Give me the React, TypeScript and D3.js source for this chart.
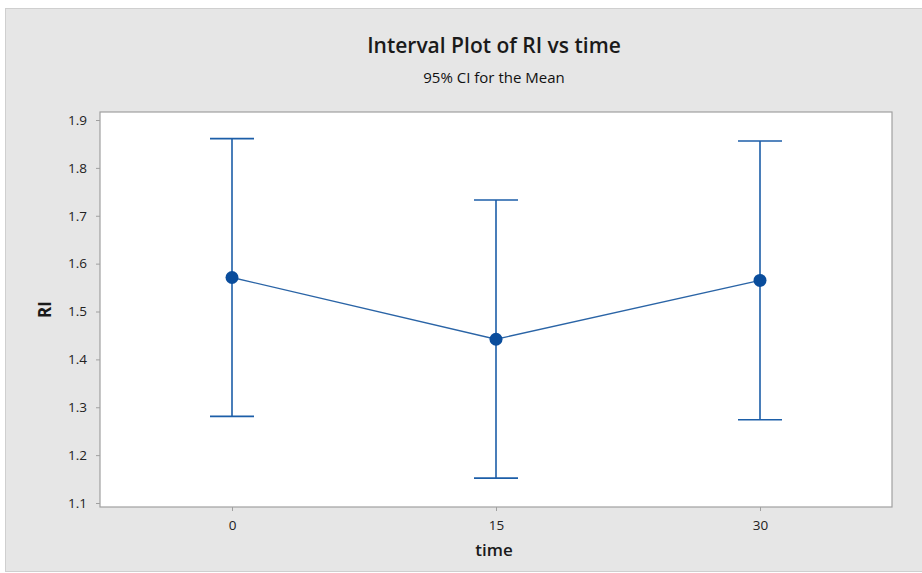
import * as d3 from "d3";
import * as React from "react";

const times = [0, 15, 30];
const means = [1.571, 1.442, 1.565];
const lowers = [1.281, 1.152, 1.274];
const uppers = [1.861, 1.733, 1.856];
const yTicks = [1.1, 1.2, 1.3, 1.4, 1.5, 1.6, 1.7, 1.8, 1.9];

const W = 922,
  H = 573;
const frame = { left: 100, right: 892, top: 112, bottom: 507 };
const blue = "#1c5ea8";
const font = "'Open Sans', 'Noto Sans', sans-serif";

export default function App() {
  const ref = React.useRef<SVGSVGElement>(null);

  React.useEffect(() => {
    const svg = d3.select(ref.current as SVGSVGElement);
    svg.selectAll("*").remove();

    const x = d3.scaleLinear().domain([-7.5, 37.5]).range([frame.left, frame.right]);
    const y = d3.scaleLinear().domain([1.1, 1.9]).range([503, 120]);

    // background
    svg
      .append("rect")
      .attr("x", 5.5)
      .attr("y", 8.5)
      .attr("width", W - 5)
      .attr("height", H - 10)
      .attr("fill", "#e6e6e6")
      .attr("stroke", "#cfcfcf");

    svg
      .append("rect")
      .attr("x", frame.left)
      .attr("y", frame.top)
      .attr("width", frame.right - frame.left)
      .attr("height", frame.bottom - frame.top)
      .attr("fill", "#ffffff")
      .attr("stroke", "#a0a0a0")
      .attr("stroke-width", 1.2);

    // titles
    svg
      .append("text")
      .attr("x", 494)
      .attr("y", 53)
      .attr("text-anchor", "middle")
      .attr("font-family", font)
      .attr("font-size", 21)
      .attr("font-weight", 600)
      .attr("fill", "#1a1a1a")
      .text("Interval Plot of RI vs time");
    svg
      .append("text")
      .attr("x", 494)
      .attr("y", 83)
      .attr("text-anchor", "middle")
      .attr("font-family", font)
      .attr("font-size", 15)
      .attr("fill", "#111")
      .text("95% CI for the Mean");

    // y axis
    const yAxis = d3
      .axisLeft(y)
      .tickValues(yTicks)
      .tickFormat(d3.format(".1f"))
      .tickSize(4)
      .tickPadding(9);
    const gy = svg.append("g").attr("transform", `translate(${frame.left},0)`).call(yAxis);
    gy.select(".domain").remove();
    gy.selectAll("line").attr("stroke", "#a0a0a0");
    gy.selectAll("text")
      .attr("font-family", font)
      .attr("font-size", 13.5)
      .attr("fill", "#222");

    // x axis
    const xAxis = d3.axisBottom(x).tickValues(times).tickSize(4).tickPadding(9);
    const gx = svg.append("g").attr("transform", `translate(0,${frame.bottom})`).call(xAxis);
    gx.select(".domain").remove();
    gx.selectAll("line").attr("stroke", "#a0a0a0");
    gx.selectAll("text")
      .attr("font-family", font)
      .attr("font-size", 13.5)
      .attr("fill", "#222");

    svg
      .append("text")
      .attr("x", 494)
      .attr("y", 556)
      .attr("text-anchor", "middle")
      .attr("font-family", font)
      .attr("font-size", 17)
      .attr("font-weight", 600)
      .attr("fill", "#1a1a1a")
      .text("time");
    svg
      .append("text")
      .attr("transform", `translate(51,${(frame.top + frame.bottom) / 2}) rotate(-90)`)
      .attr("text-anchor", "middle")
      .attr("font-family", font)
      .attr("font-size", 17)
      .attr("font-weight", 700)
      .attr("fill", "#1a1a1a")
      .text("RI");

    const data = times.map((t, i) => ({ t, m: means[i], lo: lowers[i], hi: uppers[i] }));

    // interval bars
    const g = svg.append("g").attr("stroke", blue).attr("stroke-width", 1.6).attr("fill", "none");
    g.selectAll("line.v")
      .data(data)
      .enter()
      .append("line")
      .attr("x1", (d) => x(d.t))
      .attr("x2", (d) => x(d.t))
      .attr("y1", (d) => y(d.lo))
      .attr("y2", (d) => y(d.hi));
    const cap = 22;
    g.selectAll("line.top")
      .data(data)
      .enter()
      .append("line")
      .attr("x1", (d) => x(d.t) - cap)
      .attr("x2", (d) => x(d.t) + cap)
      .attr("y1", (d) => y(d.hi))
      .attr("y2", (d) => y(d.hi));
    g.selectAll("line.bot")
      .data(data)
      .enter()
      .append("line")
      .attr("x1", (d) => x(d.t) - cap)
      .attr("x2", (d) => x(d.t) + cap)
      .attr("y1", (d) => y(d.lo))
      .attr("y2", (d) => y(d.lo));

    // mean line
    const line = d3
      .line<{ t: number; m: number }>()
      .x((d) => x(d.t))
      .y((d) => y(d.m));
    svg
      .append("path")
      .datum(data)
      .attr("d", line)
      .attr("fill", "none")
      .attr("stroke", "#2a64a6")
      .attr("stroke-width", 1.4);

    svg
      .selectAll("circle.mean")
      .data(data)
      .enter()
      .append("circle")
      .attr("cx", (d) => x(d.t))
      .attr("cy", (d) => y(d.m))
      .attr("r", 6.5)
      .attr("fill", "#0a4d9c");
  }, []);

  return (
    <svg
      ref={ref}
      width={W}
      height={H}
      style={{ position: "absolute", left: 0, top: 0, background: "#fff" }}
    />
  );
}
